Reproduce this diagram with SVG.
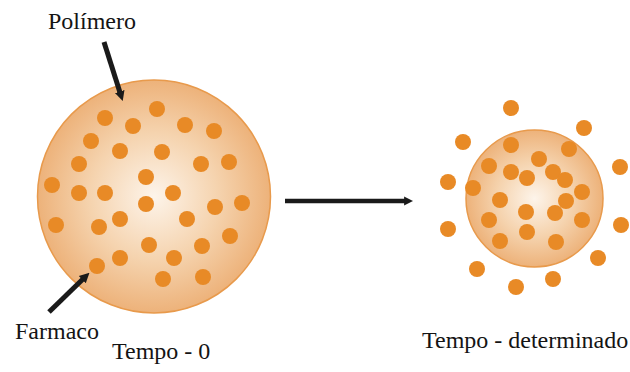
<svg xmlns="http://www.w3.org/2000/svg" width="630" height="372" viewBox="0 0 630 372">
  <style>
    .lbl { font-family: "Liberation Serif", "Times New Roman", serif; font-size: 24px; fill: #141414; }
    .sphere { stroke: #E89A4C; stroke-width: 1.5; }
    .drug { fill: #E88A26; }
    .lead { stroke: #1A1A1A; fill: none; }
  </style>
  <defs>
    <radialGradient id="polyFill" cx="50%" cy="50%" r="50%">
      <stop offset="0" stop-color="#FDF4EA"/>
      <stop offset="0.55" stop-color="#F5D3AE"/>
      <stop offset="1" stop-color="#EDB27A"/>
    </radialGradient>
    <marker id="head" viewBox="0 0 10 10" refX="1" refY="5" markerWidth="2" markerHeight="2.4" orient="auto" markerUnits="strokeWidth">
      <path d="M0,0 L10,5 L0,10 Z" fill="#1A1A1A"/>
    </marker>
  </defs>

  <rect width="630" height="372" fill="#FFFFFF"/>

  <!-- polymer matrix at time zero -->
  <g id="sphere-t0">
    <circle class="sphere" cx="154" cy="196.5" r="116.5" fill="url(#polyFill)"/>
    <g class="drug">
      <circle cx="105" cy="118" r="8"/>
      <circle cx="157" cy="109" r="8"/>
      <circle cx="133" cy="126" r="8"/>
      <circle cx="185" cy="125" r="8"/>
      <circle cx="214" cy="131" r="8"/>
      <circle cx="91" cy="141" r="8"/>
      <circle cx="120" cy="151" r="8"/>
      <circle cx="162" cy="152" r="8"/>
      <circle cx="79" cy="164" r="8"/>
      <circle cx="201" cy="164" r="8"/>
      <circle cx="229" cy="162" r="8"/>
      <circle cx="146" cy="177" r="8"/>
      <circle cx="52" cy="185" r="8"/>
      <circle cx="79" cy="193" r="8"/>
      <circle cx="105" cy="193" r="8"/>
      <circle cx="173" cy="193" r="8"/>
      <circle cx="146" cy="204" r="8"/>
      <circle cx="215" cy="207" r="8"/>
      <circle cx="242" cy="203" r="8"/>
      <circle cx="56" cy="225" r="8"/>
      <circle cx="99" cy="227" r="8"/>
      <circle cx="120" cy="219" r="8"/>
      <circle cx="187" cy="219" r="8"/>
      <circle cx="230" cy="236" r="8"/>
      <circle cx="149" cy="245" r="8"/>
      <circle cx="202" cy="246" r="8"/>
      <circle cx="120" cy="258" r="8"/>
      <circle cx="174" cy="258" r="8"/>
      <circle cx="97" cy="266" r="8"/>
      <circle cx="163" cy="279" r="8"/>
      <circle cx="203" cy="277" r="8"/>
    </g>
  </g>

  <!-- shrunken matrix with released drug -->
  <g id="sphere-t1">
    <circle class="sphere" cx="534.5" cy="198.5" r="68.5" fill="url(#polyFill)"/>
    <g class="drug">
      <circle cx="511" cy="145" r="8"/>
      <circle cx="569" cy="149" r="8"/>
      <circle cx="539" cy="159" r="8"/>
      <circle cx="489" cy="166" r="8"/>
      <circle cx="511" cy="172" r="8"/>
      <circle cx="553" cy="172" r="8"/>
      <circle cx="527" cy="178" r="8"/>
      <circle cx="565" cy="180" r="8"/>
      <circle cx="473" cy="188" r="8"/>
      <circle cx="582" cy="192" r="8"/>
      <circle cx="500" cy="200" r="8"/>
      <circle cx="566" cy="201" r="8"/>
      <circle cx="526" cy="212" r="8"/>
      <circle cx="555" cy="213" r="8"/>
      <circle cx="489" cy="220" r="8"/>
      <circle cx="582" cy="220" r="8"/>
      <circle cx="527" cy="232" r="8"/>
      <circle cx="500" cy="241" r="8"/>
      <circle cx="556" cy="242" r="8"/>
    </g>
    <g id="released" class="drug">
      <circle cx="511" cy="108" r="8"/>
      <circle cx="584" cy="128" r="8"/>
      <circle cx="463" cy="142" r="8"/>
      <circle cx="620" cy="167" r="8"/>
      <circle cx="448" cy="182" r="8"/>
      <circle cx="448" cy="229" r="8"/>
      <circle cx="621" cy="225" r="8"/>
      <circle cx="598" cy="258" r="8"/>
      <circle cx="477" cy="269" r="8"/>
      <circle cx="553" cy="279" r="8"/>
      <circle cx="516" cy="287" r="8"/>
    </g>
  </g>

  <!-- labels -->
  <g id="label-polimero"><text class="lbl" x="48" y="29">Polímero</text></g>
  <g id="label-farmaco"><text class="lbl" x="15" y="339">Farmaco</text></g>
  <g id="label-t0"><text class="lbl" x="112" y="359">Tempo - 0</text></g>
  <g id="label-t1"><text class="lbl" x="422" y="348">Tempo - determinado</text></g>

  <!-- connectors -->
  <g id="connectors">
    <line class="lead" x1="104" y1="42" x2="120" y2="92.5" stroke-width="5" marker-end="url(#head)"/>
    <line class="lead" x1="49" y1="312" x2="83" y2="279" stroke-width="5" marker-end="url(#head)"/>
    <line class="lead" x1="285" y1="201" x2="405" y2="201" stroke-width="4.5" marker-end="url(#head)"/>
  </g>
</svg>
